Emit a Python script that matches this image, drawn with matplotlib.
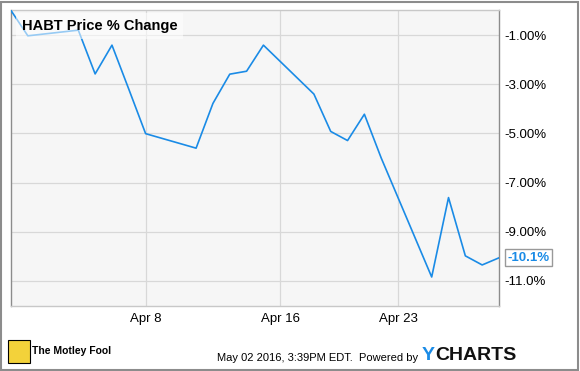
import matplotlib.pyplot as plt
import matplotlib.dates as mdates
from matplotlib.patches import Rectangle
import numpy as np

plt.rcParams['font.family'] = ['Liberation Sans', 'DejaVu Sans']

dates = ["2016-03-31", "2016-04-01", "2016-04-04", "2016-04-05", "2016-04-06",
         "2016-04-07", "2016-04-08", "2016-04-11", "2016-04-12", "2016-04-13",
         "2016-04-14", "2016-04-15", "2016-04-18", "2016-04-19", "2016-04-20",
         "2016-04-21", "2016-04-22", "2016-04-25", "2016-04-26", "2016-04-27",
         "2016-04-28", "2016-04-29"]
pct_change = [0.0, -1.03, -0.80, -2.58, -1.41,
              -3.20, -5.01, -5.60, -3.78, -2.59,
              -2.47, -1.41, -3.40, -4.92, -5.29,
              -4.22, -6.00, -10.84, -7.61, -9.98,
              -10.35, -10.06]
ytick_vals = [-1, -3, -5, -7, -9, -11]
ytick_labels = ["-1.00%", "-3.00%", "-5.00%", "-7.00%", "-9.00%", "-11.0%"]
xtick_dates = ["2016-04-08", "2016-04-16", "2016-04-23"]
xtick_labels = ["Apr 8", "Apr 16", "Apr 23"]

x = np.array(dates, dtype="datetime64[D]").astype("datetime64[ms]").astype(object)
xt = np.array(xtick_dates, dtype="datetime64[D]").astype("datetime64[ms]").astype(object)

blue = "#1a8be6"
fig = plt.figure(figsize=(5.8, 3.71), dpi=100)
ax = fig.add_axes([11 / 580, 1 - 306 / 371, 488 / 580, 296 / 371])
ax.set_facecolor("#f6f6f6")

ax.plot(x, pct_change, color=blue, lw=1.2, zorder=3)

ax.set_xlim(x[0], x[-1])
ax.set_ylim(-12.02, 0.02)
ax.set_xticks(xt)
ax.set_xticklabels(xtick_labels)
ax.set_yticks(ytick_vals)
ax.set_yticklabels(ytick_labels)
ax.yaxis.tick_right()
ax.tick_params(length=0, labelsize=9.5, colors="black")
ax.tick_params(axis="y", pad=4)
ax.tick_params(axis="x", pad=5)
ax.grid(True, color="#d8d8d8", lw=0.9, zorder=0)
ax.set_axisbelow(True)
for side, sp in ax.spines.items():
    sp.set_color("#8c8c8c")
    sp.set_linewidth(1)
ax.spines["bottom"].set_color("#c8c8c8")
ax.spines["top"].set_color("#c8c8c8")

# title box
ax.text(0.022, 0.97, "HABT Price % Change", transform=ax.transAxes,
        fontsize=10.5, fontweight="bold", ha="left", va="top", zorder=5,
        bbox=dict(boxstyle="square,pad=0.4", fc="white", ec="none", alpha=0.55))

# last value label
ax.annotate(f"{pct_change[-1]:.1f}%", xy=(x[-1], pct_change[-1]),
            xytext=(6, 0), textcoords="offset points", ha="left", va="center",
            fontsize=9.5, fontweight="bold", color=blue, annotation_clip=False,
            bbox=dict(boxstyle="square,pad=0.2", fc="white", ec="#999999", lw=1))

# footer
fig.patches.append(Rectangle((1 / 580, 1 / 371), 577 / 580, 368 / 371,
                             transform=fig.transFigure, fill=False,
                             ec="#8c8c8c", lw=1.5))
fig.patches.append(Rectangle((8 / 580, 1 - 363 / 371), 22 / 580, 23 / 371,
                             transform=fig.transFigure, fc="#f3d23a",
                             ec="black", lw=0.8))
fig.text(32 / 580, 1 - 351 / 371, "The Motley Fool", fontsize=7.5,
         fontweight="bold", ha="left", va="center")
fig.text(418 / 580, 1 - 358 / 371, "May 02 2016, 3:39PM EDT.  Powered by",
         fontsize=8, ha="right", va="center")
fig.text(422 / 580, 1 - 356 / 371, "Y", fontsize=14, fontweight="bold",
         color="#1a8be6", ha="left", va="center")
fig.text(435 / 580, 1 - 356 / 371, "CHARTS", fontsize=14, fontweight="bold",
         color="#111111", ha="left", va="center")

fig.savefig("out.png", dpi=100)
